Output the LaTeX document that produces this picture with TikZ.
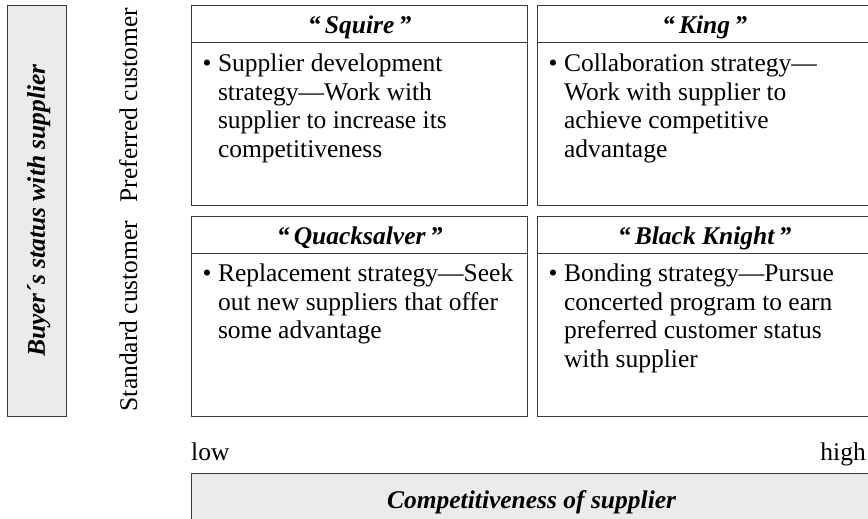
\documentclass[tikz,border=0pt]{standalone}
\usepackage{fontspec}
\setmainfont{Liberation Serif}
\usepackage{xcolor}
\usepackage{tikz}
\usetikzlibrary{positioning,calc}

\definecolor{panelgrey}{HTML}{EBEBEB}
\definecolor{framegrey}{HTML}{3A3A3A}
\newcommand{\quadhead}[1]{\textbf{\textit{“\,#1\,”}}}
\newcommand{\quadbody}[1]{\textbullet\ \begin{tabular}[t]{@{}l@{}}#1\end{tabular}}

\begin{document}
\begin{tikzpicture}[x=1pt, y=1pt,
    every node/.style={font=\fontsize{25.5}{28.5}\selectfont},
    frame/.style={draw=framegrey, line width=1.3pt, inner sep=0pt},
    cell/.style={frame, minimum width=336, minimum height=200, anchor=north west},
    headband/.style={frame, minimum width=336, minimum height=37, anchor=north west},
    title/.style={inner sep=0pt, anchor=base},
    body/.style={inner sep=0pt, anchor=base west},
    greybox/.style={frame, fill=panelgrey, anchor=north west},
    sidelabel/.style={inner sep=0pt, anchor=base, rotate=90}]
    \useasboundingbox (0,0) rectangle (868,519);

    % buyer axis
    \node[greybox, minimum width=59, minimum height=411] (buyer) at (7,514) {};
    \node[sidelabel] (buyertext) at (45,308.5) {\textbf{\textit{Buyer´s status with supplier}}};
    \node[sidelabel] (preferred) at (137,414) {Preferred customer};
    \node[sidelabel] (standard) at (137,203) {Standard customer};

    % top row
    \node[cell] (squire) at (191,514) {};
    \node[headband] (squirehead) at (squire.north west) {};
    \node[title] (squiretitle) at ($(squirehead.south)+(0,9.3)$) {\quadhead{Squire}};
    \node[body] (squiretext) at (202.5,447) {\quadbody{Supplier development\\strategy—Work with\\supplier to increase its\\competitiveness}};

    \node[cell, minimum width=334] (king) at (537,514) {};
    \node[headband, minimum width=334] (kinghead) at (king.north west) {};
    \node[title] (kingtitle) at ($(kinghead.south)+(0,9.3)$) {\quadhead{King}};
    \node[body] (kingtext) at (548.5,447) {\quadbody{Collaboration strategy—\\Work with supplier to\\achieve competitive\\advantage}};

    % bottom row
    \node[cell] (quack) at (191,303) {};
    \node[headband] (quackhead) at (quack.north west) {};
    \node[title] (quacktitle) at ($(quackhead.south)+(0,9.3)$) {\quadhead{Quacksalver}};
    \node[body] (quacktext) at (202.5,237) {\quadbody{Replacement strategy—Seek\\out new suppliers that offer\\some advantage}};

    \node[cell, minimum width=334] (knight) at (537,303) {};
    \node[headband, minimum width=334] (knighthead) at (knight.north west) {};
    \node[title] (knighttitle) at ($(knighthead.south)+(0,9.3)$) {\quadhead{Black Knight}};
    \node[body] (knighttext) at (548.5,237) {\quadbody{Bonding strategy—Pursue\\concerted program to earn\\preferred customer status\\with supplier}};

    % supplier axis
    \node[body] (low) at (191,58) {low};
    \node[inner sep=0pt, anchor=base east] (high) at (866,58) {high};
    \node[greybox, minimum width=680, minimum height=58] (compet) at (191,46) {\textbf{\textit{Competitiveness of supplier}}};
\end{tikzpicture}
\end{document}
